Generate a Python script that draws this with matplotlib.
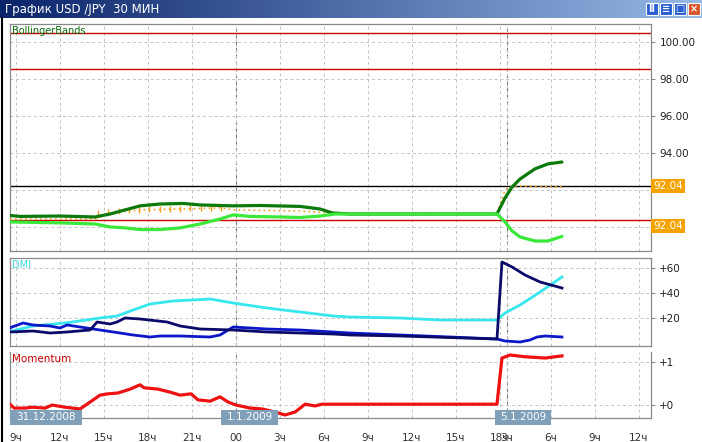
import numpy as np
import matplotlib
matplotlib.use('Agg')
import matplotlib.pyplot as plt
from matplotlib.patches import Rectangle
from matplotlib.transforms import blended_transform_factory

# time axis: hours after 31.12 09:00, Jan 5 session glued on after Jan 1 18:00
bb_t = [-0.4, 0.29, 3.01, 5.4, 6.42, 7.44, 8.47, 9.83, 11.4, 12.56, 14.81, 16.65, 19.37, 20.74, 21.56,
        22.78, 32.8, 33.35, 33.83, 34.37, 35.39, 36.28, 37.23]
bb_upper = [90.62, 90.57, 90.59, 90.54, 90.70, 90.92, 91.14, 91.24, 91.27, 91.19, 91.14, 91.16, 91.11, 90.97, 90.76,
            90.70, 90.70, 91.57, 92.16, 92.59, 93.14, 93.41, 93.51]
low_t = [-0.4, 3.01, 5.4, 6.42, 7.44, 8.47, 9.83, 11.2, 12.56, 13.92, 14.81, 15.97, 18.01, 19.37, 20.74,
         21.77, 32.8, 33.35, 33.83, 34.37, 35.39, 36.28, 37.23]
bb_lower = [90.27, 90.22, 90.16, 90.0, 89.95, 89.86, 89.86, 89.95, 90.16, 90.43, 90.65, 90.57, 90.54, 90.51, 90.59,
            90.70, 90.70, 90.27, 89.78, 89.46, 89.24, 89.24, 89.49]
price_t = [-0.4, 5.4, 6.42, 8.47, 11.2, 13.92, 14.95, 19.37, 21.43, 32.8, 33.35, 33.83, 37.23]
price = [90.43, 90.43, 90.76, 90.92, 90.97, 91.03, 90.92, 90.86, 90.76, 90.70, 92.0, 92.22, 92.16]
wick_t = [5.6, 6.3, 7.0, 7.7, 8.4, 9.1, 9.8, 10.5, 11.2, 11.9, 12.6, 13.3, 14.0]
wick = [90.74, 90.80, 90.86, 90.90, 90.93, 90.95, 90.97, 90.98, 90.99, 91.0, 91.01, 91.02, 91.0]
levels_red = [100.49, 98.54, 90.38]
level_black = 92.22
label_levels = [92.22, 90.05]

dmi_t_cyan = [-0.26, 1.17, 3.49, 5.74, 6.9, 7.99, 9.15, 10.72, 13.24, 14.81, 17.12, 19.37, 21.63, 22.78, 26.19,
              28.92, 32.8, 33.35, 34.37, 35.74, 37.23]
adx = [9.6, 13.6, 16.2, 20.0, 21.6, 26.4, 31.2, 33.6, 35.2, 32.0, 28.0, 24.8, 21.6, 20.8, 20.0,
       18.4, 18.4, 24.0, 30.4, 40.8, 52.8]
dmi_t_navy = [-0.4, 1.17, 2.33, 3.49, 5.06, 5.54, 6.42, 6.9, 7.44, 8.47, 10.31, 11.2, 12.56, 14.81, 17.12,
              19.37, 21.63, 22.78, 26.19, 32.8, 33.14, 33.83, 34.71, 35.74, 37.23]
di_plus = [8.8, 9.6, 8.0, 8.8, 10.4, 16.8, 15.2, 16.8, 20.0, 19.2, 16.8, 13.6, 11.2, 10.4, 8.8,
           8.0, 7.2, 6.4, 5.6, 3.2, 64.8, 60.8, 54.4, 48.8, 44.0]
dmi_t_blue = [-0.4, -0.26, 0.49, 1.17, 2.33, 3.01, 3.49, 4.38, 5.74, 7.1, 7.99, 9.15, 9.83, 11.2, 13.24,
              13.92, 14.81, 17.12, 19.37, 21.63, 22.78, 26.19, 29.61, 32.8, 33.35, 34.37, 35.05, 35.53, 36.08, 37.23]
di_minus = [12.0, 12.8, 16.0, 14.4, 13.6, 12.0, 14.4, 12.8, 10.4, 8.0, 6.4, 4.8, 5.6, 5.6, 4.8,
            6.4, 12.8, 11.2, 10.4, 8.8, 8.0, 6.4, 4.8, 3.2, 1.6, 0.8, 2.4, 4.8, 5.6, 4.8]

mom_t = [-0.4, -0.12, 0.63, 1.1, 1.99, 2.47, 3.35, 4.38, 5.06, 5.74, 6.28, 6.97, 7.79, 8.47, 8.74,
         9.69, 10.51, 11.2, 11.94, 12.42, 13.24, 13.92, 14.47, 15.01, 15.97, 16.78, 17.67, 18.35, 19.04, 19.72,
         20.4, 20.88, 32.8, 33.14, 33.69, 34.71, 36.08, 37.23]
momentum = [0.02, -0.07, -0.07, -0.05, -0.07, 0.0, -0.05, -0.09, 0.07, 0.23, 0.26, 0.28, 0.37, 0.47, 0.40,
            0.37, 0.30, 0.23, 0.26, 0.12, 0.09, 0.19, 0.07, 0.0, -0.07, -0.09, -0.16, -0.23, -0.16, 0.02,
            -0.02, 0.02, 0.02, 1.09, 1.16, 1.12, 1.09, 1.14]

x_ticks = [0, 3, 6, 9, 12, 15, 18, 21, 24, 27, 30, 33, 33.45, 36.45, 39.45, 42.45]
x_labels = ['9ч', '12ч', '15ч', '18ч', '21ч', '00', '3ч', '6ч', '9ч', '12ч', '15ч', '18ч', '3ч', '6ч', '9ч', '12ч']
day_lines = [15, 33.45]
dates = ['31.12.2008', '1.1.2009', '5.1.2009']
date_spans = [(-0.4, 4.51), (13.99, 17.87), (32.67, 36.48)]

W, H = 702, 442


def box(x0, y0, x1, y1):
    return [x0 / W, 1 - y1 / H, (x1 - x0) / W, (y1 - y0) / H]


fig = plt.figure(figsize=(W / 100, H / 100), dpi=100)
fig.patch.set_facecolor('white')

# title bar
ax_t = fig.add_axes(box(0, 0, W, 18))
c0 = np.array([10, 36, 106]) / 255
c1 = np.array([150, 185, 230]) / 255
grad = np.linspace(0, 1, 256)[None, :, None] * (c1 - c0) + c0
ax_t.imshow(grad, aspect='auto', extent=[0, W, 18, 0])
ax_t.set_xlim(0, W)
ax_t.set_ylim(18, 0)
ax_t.axis('off')
ax_t.text(5, 9.5, 'График USD /JPY  30 МИН', color='white', fontsize=8.5, va='center', ha='left')
for i, g in enumerate(['ll', '≡', '□', '×']):
    x0 = 646 + i * 14
    fc = '#2a5fd0' if i < 3 else '#d8542a'
    ax_t.add_patch(Rectangle((x0, 3), 12, 12, fc=fc, ec='white', lw=0.8))
    ax_t.text(x0 + 6, 9.3, g, color='white', fontsize=7, ha='center', va='center', fontweight='bold')

# window left border
fig.add_artist(plt.Line2D([2 / W, 2 / W], [0, 1 - 18 / H], color='black', lw=1.5))

ax1 = fig.add_axes(box(10, 24, 651, 251))
ax2 = fig.add_axes(box(10, 257.5, 651, 346))
ax3 = fig.add_axes(box(10, 352, 651, 418))

grid_kw = dict(color='#c4c4c4', lw=0.7, ls=(0, (3, 3)))
for ax in (ax1, ax2, ax3):
    ax.set_xlim(-0.4, 43.3)
    ax.set_xticks(x_ticks)
    ax.grid(True, **grid_kw)
    for d in day_lines:
        ax.axvline(d, color='#707070', lw=0.8, ls=(0, (3, 3)), zorder=1)
    for s in ax.spines.values():
        s.set_color('#888888')
        s.set_linewidth(0.9)
    ax.yaxis.tick_right()
    ax.tick_params(axis='y', length=3, color='#888888', labelsize=7.5, labelcolor='#222222', pad=3)
    ax.tick_params(axis='x', length=0)
    ax.set_facecolor('white')
ax1.set_xticklabels([])
ax2.set_xticklabels([])
ax3.set_xticklabels(x_labels, fontsize=7.5, color='#333333')
ax3.tick_params(axis='x', pad=11)
ax3.spines['top'].set_visible(False)

# Bollinger
ax1.set_ylim(88.70, 100.97)
ax1.set_yticks([90, 92, 94, 96, 98, 100])
ax1.set_yticklabels(['', '', '94.00', '96.00', '98.00', '100.00'])
for lv in levels_red:
    ax1.axhline(lv, color='#cc0000', lw=1, zorder=2)
ax1.axhline(level_black, color='black', lw=1, zorder=2)
ax1.plot(price_t, price, color='#f0a020', lw=1.2, ls=(0, (1, 2)), zorder=3)
ax1.plot(wick_t, wick, ls='none', marker='|', ms=5, mew=1, color='#f0a020', zorder=3)
ax1.plot(bb_t, bb_upper, color='#0b7a0b', lw=2.3, zorder=4, solid_capstyle='round')
ax1.plot(low_t, bb_lower, color='#3ae83a', lw=2.3, zorder=5, solid_capstyle='round')
tr1 = blended_transform_factory(ax1.transAxes, ax1.transData)
for lv in label_levels:
    ax1.text(1.003, lv, '92.04', transform=tr1, color='white', fontsize=7.5, va='center', ha='left',
             bbox=dict(boxstyle='square,pad=0.2', fc='#f5a300', ec='none'), zorder=10, clip_on=False)
ax1.text(0.003, 0.99, 'BollingerBands', transform=ax1.transAxes, color='#0a6a0a', fontsize=7,
         va='top', ha='left')

# DMI
ax2.set_ylim(-2.4, 68.4)
ax2.set_yticks([20, 40, 60])
ax2.set_yticklabels(['+20', '+40', '+60'])
ax2.plot(dmi_t_cyan, adx, color='#38e6ee', lw=2.0, zorder=3)
ax2.plot(dmi_t_blue, di_minus, color='#0a18c8', lw=2.0, zorder=4)
ax2.plot(dmi_t_navy, di_plus, color='#0a0a6a', lw=2.0, zorder=5)
ax2.text(0.003, 0.97, 'DMI', transform=ax2.transAxes, color='#38d8e8', fontsize=7, va='top', ha='left')

# Momentum
ax3.set_ylim(-0.30, 1.23)
ax3.set_yticks([0, 1])
ax3.set_yticklabels(['+0', '+1'])
ax3.plot(mom_t, momentum, color='#ee1111', lw=2.3, zorder=3)
ax3.text(0.003, 0.97, 'Momentum', transform=ax3.transAxes, color='#c00000', fontsize=7.5, va='top', ha='left')

trd = blended_transform_factory(ax3.transData, fig.transFigure)
for lab, (a, b) in zip(dates, date_spans):
    ax3.add_patch(Rectangle((a, 1 - 425 / H), b - a, 15 / H, transform=trd, fc='#809fb8', ec='none',
                            zorder=8, clip_on=False))
    ax3.text((a + b) / 2, 1 - 417.5 / H, lab, transform=trd, color='white', fontsize=7.5,
             ha='center', va='center', zorder=9, clip_on=False)

fig.savefig('out.png', dpi=100)
